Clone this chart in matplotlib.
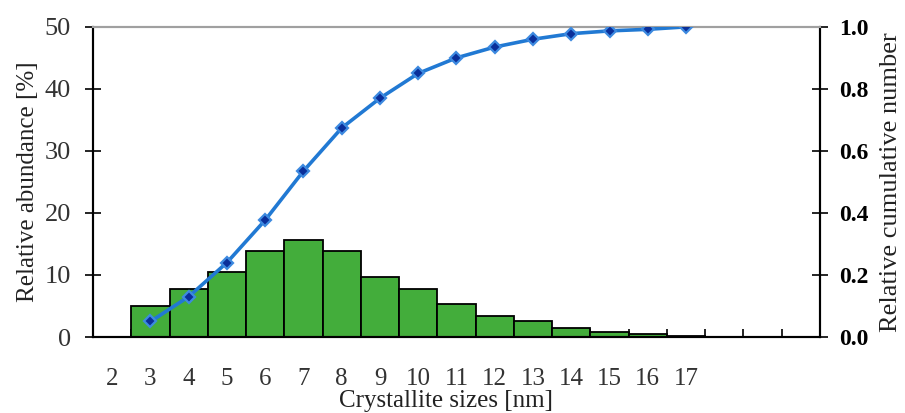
import numpy as np
import matplotlib
matplotlib.use('Agg')
from matplotlib import pyplot as plt

plt.rcParams['font.family'] = 'Liberation Serif'

# crystallite size classes (nm)
sizes = [2, 3, 4, 5, 6, 7, 8, 9, 10, 11, 12, 13, 14, 15, 16, 17, 18, 19, 20]
tick_labels = ['2', '3', '4', '5', '6', '7', '8', '9', '10', '11', '12',
               '13', '14', '15', '16', '17']

# relative abundance [%] for each class
abundance = [0, 5.0, 7.7, 10.4, 13.9, 15.7, 13.9, 9.6, 7.7, 5.3, 3.4,
             2.6, 1.5, 0.8, 0.5, 0.2, 0, 0, 0]

# cumulative number (right axis)
cum_sizes = [3, 4, 5, 6, 7, 8, 9, 10, 11, 12, 13, 14, 15, 16, 17]
cumulative = [0.05, 0.13, 0.24, 0.377, 0.535, 0.674, 0.77, 0.85, 0.90,
              0.935, 0.96, 0.978, 0.987, 0.992, 1.0]

fig, ax = plt.subplots(figsize=(9.05, 4.13), dpi=100)
fig.subplots_adjust(left=0.1028, right=0.906, bottom=0.184, top=0.935)

ax.bar(sizes, abundance, width=1.0, color='#43ad3b', edgecolor='black',
       linewidth=1.3, zorder=2)

ax.set_xlim(1.5, 20.5)
ax.set_ylim(0, 50)
ax.set_yticks([0, 10, 20, 30, 40, 50])
ax.set_xticks(range(2, 18))
ax.set_xticklabels(tick_labels)
ax.set_xticks(np.arange(2.5, 20, 1.0), minor=True)
ax.tick_params(axis='x', which='major', length=0, pad=22, labelsize=18,
               labelcolor='#333333')
ax.tick_params(axis='x', which='minor', direction='in', length=6, width=1.2)
ax.tick_params(axis='y', direction='inout', length=12, width=1.2,
               labelsize=19, labelcolor='#333333', pad=10)
ax.set_xlabel('Crystallite sizes [nm]', fontsize=18, color='#222222')
ax.xaxis.set_label_coords(0.485, -0.17)
ax.set_ylabel('Relative abundance [%]', fontsize=18, color='#222222',
              labelpad=4)

for side in ['left', 'bottom', 'right']:
    ax.spines[side].set_linewidth(1.5)
ax.spines['top'].set_color('#a0a0a0')
ax.spines['top'].set_linewidth(1.5)

ax2 = ax.twinx()
ax2.plot(cum_sizes, cumulative, color='#2179d3', linewidth=2.6,
         marker='D', markersize=6.5, markerfacecolor='#0a2f9a',
         markeredgecolor='#3d8ae0', markeredgewidth=1.6, zorder=3)
ax2.set_ylim(0, 1.0)
ax2.set_yticks([0.0, 0.2, 0.4, 0.6, 0.8, 1.0])
ax2.set_yticklabels(['0.0', '0.2', '0.4', '0.6', '0.8', '1.0'],
                    fontweight='bold')
ax2.tick_params(axis='y', direction='inout', length=12, width=1.2,
                labelsize=17, pad=8)
ax2.set_ylabel('Relative cumulative number', fontsize=19, color='#222222',
               labelpad=8)
for side in ['left', 'bottom', 'right']:
    ax2.spines[side].set_linewidth(1.5)
ax2.spines['top'].set_color('#a0a0a0')
ax2.spines['top'].set_linewidth(1.5)

plt.savefig('out.png', dpi=100)
